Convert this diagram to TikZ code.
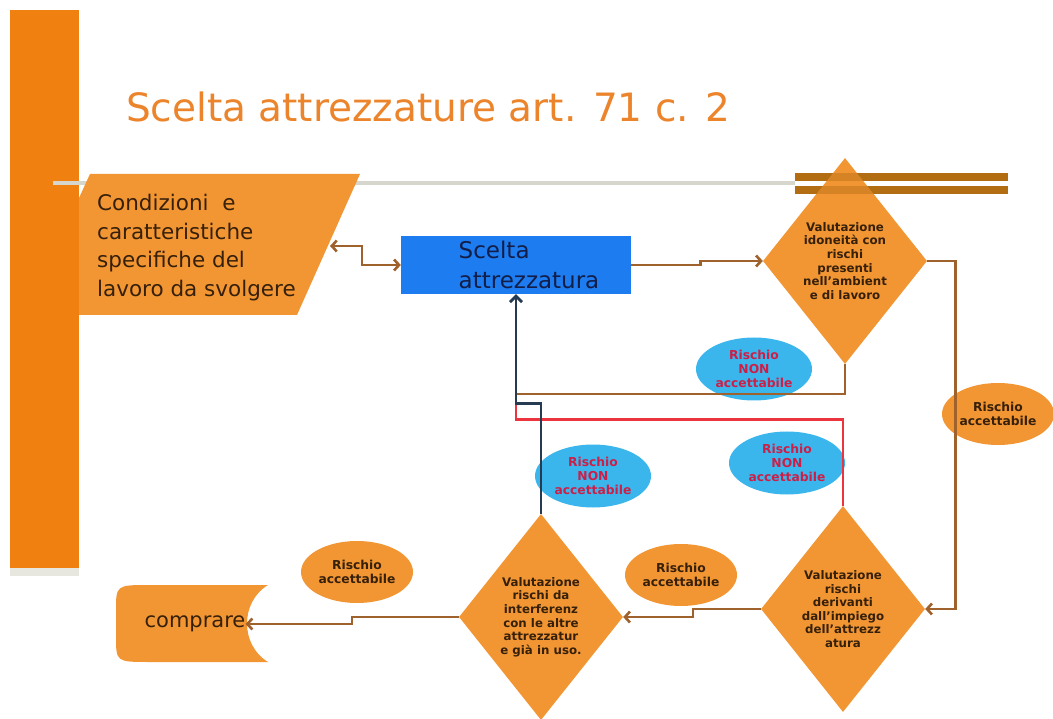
\documentclass[tikz,border=0pt]{standalone}
\usepackage{fontspec}
\setmainfont{DejaVu Sans}
\usetikzlibrary{shapes.geometric,arrows.meta,calc}
\definecolor{barorange}{RGB}{240,128,16}
\definecolor{titleorange}{RGB}{236,132,44}
\definecolor{shapeorange}{RGB}{242,150,52}
\definecolor{linebrown}{RGB}{160,98,45}
\definecolor{darktext}{RGB}{55,32,10}
\definecolor{boxblue}{RGB}{28,124,240}
\definecolor{navytext}{RGB}{18,30,72}
\definecolor{navyline}{RGB}{38,58,82}
\definecolor{redline}{RGB}{236,52,62}
\definecolor{skyblue}{RGB}{58,182,236}
\definecolor{redtext}{RGB}{205,30,72}
\definecolor{rulegray}{RGB}{214,214,204}
\definecolor{barbrown}{RGB}{178,108,18}
\begin{document}
\begin{tikzpicture}[x=1pt,y=-1pt,
 barb/.tip={Straight Barb[length=5pt,width=11pt]},
 conn/.style={draw=linebrown,line width=2.6pt},
 dec/.style={shape=diamond,fill=shapeorange,inner sep=0pt,minimum width=164pt,minimum height=206pt,align=center,font=\fontsize{11.8}{13.6}\selectfont\bfseries,text=darktext},
 risknon/.style={ellipse,fill=skyblue,minimum width=116pt,minimum height=63pt,inner sep=0pt,align=center,text=redtext,font=\fontsize{12.3}{13.8}\selectfont\bfseries},
 riskok/.style={ellipse,fill=shapeorange,minimum width=112pt,minimum height=62pt,inner sep=0pt,align=center,text=darktext,font=\fontsize{12.3}{13.8}\selectfont\bfseries},
 choicebox/.style={fill=boxblue,minimum width=230pt,minimum height=58pt,inner sep=0pt,align=left,text=navytext,font=\fontsize{23}{30}\selectfont}
]
\useasboundingbox (0,0) rectangle (1053,719);
\fill[white] (0,0) rectangle (1053,719);
% left bar and rules
\fill[rulegray!60] (10,567) rectangle (79,576);
\fill[barorange] (10,10) rectangle (79,568);
\draw[rulegray,line width=4pt] (53,183) -- (795,183);
\fill[barbrown] (795,173) rectangle (1008,181);
\fill[barbrown] (795,186) rectangle (1008,194);
% title
\node[anchor=base west,text=titleorange,font=\fontsize{39}{45}\selectfont,inner sep=0pt] (title) at (126,122) {Scelta attrezzature art. 71 c. 2};
% parallelogram
\fill[shapeorange] (79,198) -- (90,174) -- (360,174) -- (297,315) -- (79,315) -- cycle;
\node[anchor=north west,align=left,text=darktext,font=\fontsize{21.5}{28.5}\selectfont,inner sep=0pt] (cond) at (97,194) {Condizioni\ \ e\\caratteristiche\\specifiche del\\lavoro da svolgere};
\coordinate (condR) at (330,246);
% blue box
\node[choicebox] (blue) at (516,265) {\hspace*{26pt}Scelta\\\hspace*{26pt}attrezzatura};
% diamonds
\node[dec] (d1) at (845,261) {Valutazione\\idoneità con\\rischi\\presenti\\nell'ambient\\e di lavoro};
\fill[barbrown,fill opacity=0.45] (795,173) rectangle (1008,181);
\fill[barbrown,fill opacity=0.45] (795,186) rectangle (1008,194);
\node[dec] (d2) at (843,609) {Valutazione\\rischi\\derivanti\\dall'impiego\\dell'attrezz\\atura};
\node[dec] (d3) at (541,617) {Valutazione\\rischi da\\interferenz\\con le altre\\attrezzatur\\e già in uso.};
% ellipses
\node[risknon] (n1) at (754,369) {Rischio\\NON\\accettabile};
\node[risknon] (n2) at (593,476) {Rischio\\NON\\accettabile};
\node[risknon] (n3) at (787,463) {Rischio\\NON\\accettabile};
\node[riskok] (a1) at (998,414) {Rischio\\accettabile};
\node[riskok] (a2) at (681,575) {Rischio\\accettabile};
\node[riskok] (a3) at (357,572) {Rischio\\accettabile};
% comprare
\fill[shapeorange] (268,585) .. controls (240,602) and (240,645) .. (268,662) -- (150,662) .. controls (116,662) .. (116,636) -- (116,611) .. controls (116,585) .. (150,585) -- cycle;
\node[font=\fontsize{21}{24}\selectfont,text=darktext,inner sep=0pt] (comp) at (195,624) {comprare};
% junctions
\coordinate (jb) at (516,394);
\coordinate (jr) at (516,405);
% connectors
\draw[conn,barb-barb] (condR) -- ++(32,0) |- (blue.west);
\draw[conn,-barb] (blue.east) -- ++(69,0) |- (d1.west);
\draw[conn,-barb] (d1.east) -- ++(28,0) |- (d2.east);
\draw[conn,-barb] (d2.west) -- ++(-68,0) |- (d3.east);
\draw[conn,-barb] (d3.west) -- ++(-107,0) |- (comp.east);
\draw[conn] (d1.south) |- (jb);
\draw[draw=redline,line width=2.6pt] (d2.north) -- ++(0,-86) -| (jr);
\draw[draw=navyline,line width=2.8pt,-{Straight Barb[length=6pt,width=12pt]}] (d3.north) -- ++(0,-110) -| (blue.south);
\end{tikzpicture}
\end{document}
